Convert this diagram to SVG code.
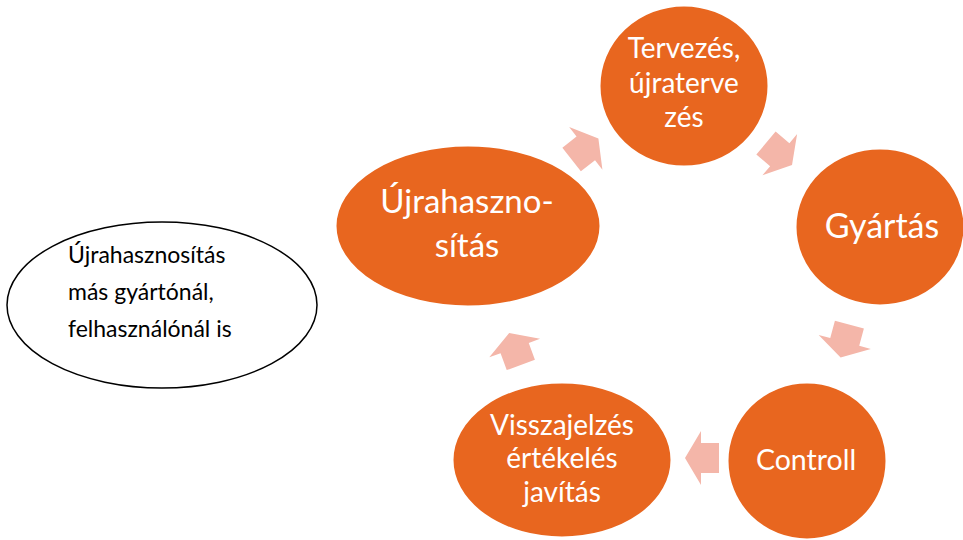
<svg xmlns="http://www.w3.org/2000/svg" width="963" height="540" viewBox="0 0 963 540">
<style>
.node{fill:#E8661F;stroke:#ffffff;stroke-width:5}
.lbl{font-family:Lato,"Open Sans","Noto Sans",sans-serif;fill:#ffffff;text-anchor:middle}
.arr{fill:#F4B6A9}
.note{fill:#ffffff;stroke:#000000;stroke-width:1.5}
.notetxt{font-family:Lato,"Liberation Sans",sans-serif;font-size:23px;fill:#000000}
</style>
<defs>
<polygon id="blk" points="-17,-15 1,-15 1,-27 17,0 1,27 1,15 -17,15"/>
</defs>
<rect width="963" height="540" fill="#ffffff"/>
<g id="connectors">
<use href="#blk" class="arr" transform="translate(585,149) rotate(-38)"/>
<use href="#blk" class="arr" transform="translate(779,154) rotate(40)"/>
<use href="#blk" class="arr" transform="translate(845,341) rotate(105)"/>
<use href="#blk" class="arr" transform="translate(702,458) rotate(180)"/>
<use href="#blk" class="arr" transform="translate(515,349) rotate(-110)"/>
</g>
<g id="node-tervezes">
<ellipse class="node" cx="684" cy="86" rx="86" ry="82"/>
<text class="lbl" font-size="28"><tspan x="684" y="58">Tervezés,</tspan><tspan x="684" y="93">újraterve</tspan><tspan x="684" y="127">zés</tspan></text>
</g>
<g id="node-gyartas">
<ellipse class="node" cx="880" cy="227" rx="86" ry="80"/>
<text class="lbl" font-size="34" x="882" y="238">Gyártás</text>
</g>
<g id="node-controll">
<ellipse class="node" cx="807" cy="461" rx="81" ry="80"/>
<text class="lbl" font-size="28.5" x="806" y="470">Controll</text>
</g>
<g id="node-visszajelzes">
<ellipse class="node" cx="562" cy="460" rx="111" ry="79"/>
<text class="lbl" font-size="28"><tspan x="562" y="435">Visszajelzés</tspan><tspan x="562" y="468">értékelés</tspan><tspan x="562" y="502">javítás</tspan></text>
</g>
<g id="node-ujrahasznositas">
<ellipse class="node" cx="468" cy="226" rx="134" ry="82"/>
<text class="lbl" font-size="33"><tspan x="467" y="213">Újrahaszno-</tspan><tspan x="467" y="257">sítás</tspan></text>
</g>
<g id="node-note">
<ellipse class="note" cx="162" cy="305" rx="155" ry="83"/>
<text class="notetxt"><tspan x="68" y="263">Újrahasznosítás</tspan><tspan x="68" y="300">más gyártónál,</tspan><tspan x="68" y="337">felhasználónál is</tspan></text>
</g>
</svg>
